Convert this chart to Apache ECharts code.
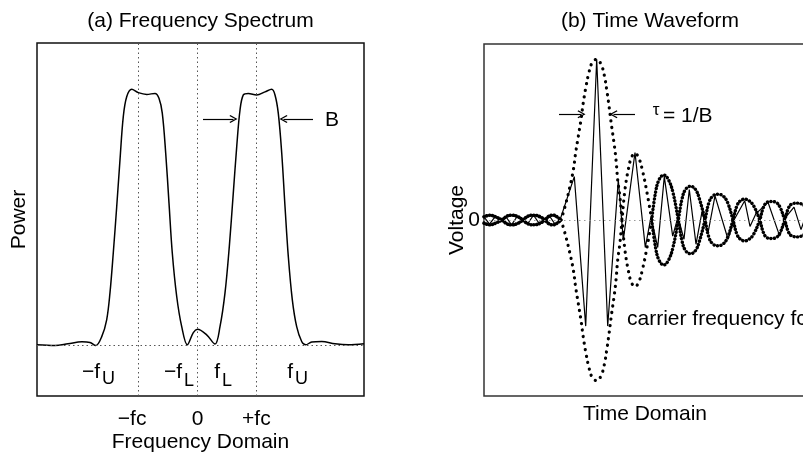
<!DOCTYPE html>
<html>
<head>
<meta charset="utf-8">
<title>Frequency spectrum and time waveform</title>
<script src="https://cdn.jsdelivr.net/npm/echarts@6.0.0/dist/echarts.min.js"></script>
<style>
  html, body { margin: 0; padding: 0; background: #fff; }
  #chart { width: 803px; height: 452px; }
</style>
</head>
<body>
<div id="chart"></div>
<script>
// (a) spectrum: frequency in units of fc, power normalised to the band top
var specFreq = [-2.725, -2.419, -2.199, -1.961, -1.825, -1.728, -1.626, -1.542, -1.486, -1.430,
  -1.372, -1.316, -1.260, -1.202, -1.117, -1.005, -0.862, -0.722, -0.654, -0.598,
  -0.540, -0.484, -0.428, -0.353, -0.268, -0.173, -0.071, 0, 0.156, 0.297,
  0.382, 0.467, 0.540, 0.608, 0.666, 0.722, 0.778, 0.862, 1.005, 1.146,
  1.260, 1.316, 1.372, 1.430, 1.486, 1.542, 1.610, 1.684, 1.769, 1.837,
  1.939, 2.109, 2.334, 2.560, 2.827];
var specPower = [0, -0.003, 0.004, 0.012, 0.009, -0.003, 0.032, 0.098, 0.203, 0.359,
  0.539, 0.723, 0.892, 0.970, 0.999, 0.986, 0.979, 0.983, 0.964, 0.906,
  0.750, 0.555, 0.359, 0.189, 0.071, 0.0, 0.048, 0.061, 0.039, 0.003,
  0.071, 0.203, 0.384, 0.594, 0.775, 0.918, 0.977, 0.983, 0.977, 0.989,
  0.999, 0.977, 0.905, 0.750, 0.540, 0.345, 0.176, 0.071, 0.013, 0.0,
  0.011, 0.013, 0.004, 0.0, 0.004];
var freqTicks = [-1, 0, 1];
var freqTickNames = ['−fc', '0', '+fc'];

// (b) waveform: time relative to the pulse peak, voltage normalised to the peak
var envTime = [-114, -108, -102, -96, -91, -86, -80, -75, -70, -64, -58, -53, -49, -45, -41, -37,
  -33, -28, -24.7, -22.3, -19.7, -17, -14.7, -12, -9, -5.7, -1.3, 3, 6.3, 8.7, 11, 13.7, 16, 18, 19.7, 22, 24,
  27, 30.5, 33.5, 37, 40.5, 44, 49, 53.7,
  57.5, 61, 65.8, 70.5, 75, 80.3,
  84, 87.5, 92.5, 97.5, 101.5, 107,
  111, 115, 120, 125, 129.5, 135,
  139, 142.5, 146.7, 151, 155.5, 161.7,
  165.5, 169, 173.3, 178, 182, 186.7,
  190.5, 194, 200, 205, 208];
var envAmp = [0.02, 0.03, 0.018, 0, -0.024, -0.03, -0.02, 0, 0.024, 0.03, 0.02, 0, -0.024, -0.03, -0.02, 0,
  0.083, 0.21, 0.31, 0.42, 0.52, 0.625, 0.73, 0.83, 0.92, 0.98, 1.0, 0.97, 0.9, 0.81, 0.71, 0.58, 0.48, 0.375, 0.25, 0.14, 0,
  -0.19, -0.32, -0.39, -0.415, -0.39, -0.32, -0.17, 0,
  0.17, 0.25, 0.28, 0.25, 0.17, 0,
  -0.13, -0.19, -0.21, -0.19, -0.13, 0,
  0.11, 0.15, 0.16, 0.15, 0.11, 0,
  -0.09, -0.12, -0.13, -0.12, -0.09, 0,
  0.08, 0.11, 0.115, 0.11, 0.08, 0,
  -0.075, -0.1, -0.105, -0.095, -0.08];
var carTime = [-114, -108.5, -103, -97.5, -92, -86.5, -81, -75.5, -70, -64.5, -59, -53.5, -48, -42.5, -38,
  -23.7, -12.3, -1.3, 9.7, 20.3, 25.3, 37,
  47.3, 53, 59.7, 66.3, 74.7, 80, 86, 91.3, 98, 104, 110, 117, 130, 136,
  146.7, 152, 158, 170, 181.7, 188, 196, 203, 208];
var carAmp = [0.02, -0.025, 0.02, -0.005, 0.02, -0.03, 0.02, 0, -0.02, 0.03, -0.02, 0, 0.02, -0.03, 0,
  0.27, -0.66, 1.0, -0.66, 0.25, -0.125, 0.42,
  -0.17, 0.02, -0.17, 0.27, -0.1, 0.02, -0.12, 0.19, -0.15, 0.05, -0.08, 0.15, -0.12, 0,
  0.12, -0.04, 0.04, 0.11, -0.1, 0.02, 0.08, -0.06, 0.03];

var FONT = 'Liberation Sans, Arial, Helvetica, sans-serif';

function pairs(xs, ys, sign) {
  return xs.map(function (x, i) { return [x, (sign || 1) * ys[i]]; });
}

// the big lobes are drawn with sparse dots, the flat parts with dense ones
function envSeries(sign, from, to, gap, width) {
  var pts = pairs(envTime, envAmp, sign).filter(function (p) { return p[0] >= from && p[0] <= to; });
  return {
    type: 'line', xAxisIndex: 1, yAxisIndex: 1, z: 3,
    data: pts, showSymbol: false, smooth: 0.4,
    lineStyle: { color: '#000', width: width, type: [0.1, gap], cap: 'round' }
  };
}

var chart = echarts.init(document.getElementById('chart'), null, { renderer: 'canvas' });

var chevron = 'path://M0,0 L6,9 L4.6,10 L0,3 L-4.6,10 L-6,9 Z';
var dotted = { color: '#555', width: 1, type: [1.5, 3] };
var txt = function (x, y, s, size, align) {
  return { type: 'text', x: x, y: y, style: { text: s, font: size + 'px ' + FONT, fill: '#000', align: align, verticalAlign: 'middle' } };
};

chart.setOption({
  animation: false,
  backgroundColor: '#fff',
  textStyle: { fontFamily: FONT },
  grid: [
    { left: 37, top: 43, width: 327, height: 353, outerBoundsMode: 'none', show: true, borderColor: '#111', borderWidth: 1.5, backgroundColor: 'transparent' },
    { left: 484, top: 44, width: 322, height: 352, outerBoundsMode: 'none', show: true, borderColor: '#333', borderWidth: 1.5, backgroundColor: 'transparent' }
  ],
  xAxis: [
    {
      gridIndex: 0, type: 'value', min: -2.725, max: 2.827,
      axisLine: { show: false }, axisTick: { show: false }, splitLine: { show: false },
      axisLabel: {
        customValues: freqTicks, margin: 13, fontSize: 21, color: '#000', fontFamily: FONT,
        formatter: function (v) {
          var name = freqTickNames[freqTicks.indexOf(v)];
          return v < 0 ? '{neg|' + name + '}' : name;
        },
        rich: { neg: { fontSize: 21, color: '#000', fontFamily: FONT, padding: [0, 13, 0, 0] } }
      },
      name: 'Frequency Domain', nameLocation: 'middle', nameGap: 36, nameMoveOverlap: false,
      nameTextStyle: { fontSize: 21, color: '#000', fontFamily: FONT }
    },
    {
      gridIndex: 1, type: 'value', min: -114, max: 208,
      axisLine: { show: false }, axisTick: { show: false }, splitLine: { show: false },
      axisLabel: { show: false },
      name: 'Time Domain', nameLocation: 'middle', nameGap: 8, nameMoveOverlap: false,
      nameTextStyle: { fontSize: 21, color: '#000', fontFamily: FONT }
    }
  ],
  yAxis: [
    {
      gridIndex: 0, type: 'value', min: -0.2, max: 1.18,
      axisLine: { show: false }, axisTick: { show: false }, splitLine: { show: false },
      axisLabel: { show: false },
      name: 'Power', nameLocation: 'middle', nameGap: 7, nameMoveOverlap: false,
      nameTextStyle: { fontSize: 21, color: '#000', fontFamily: FONT }
    },
    {
      gridIndex: 1, type: 'value', min: -1.095, max: 1.095,
      axisLine: { show: false }, axisTick: { show: false }, splitLine: { show: false },
      axisLabel: { customValues: [0], margin: 4, fontSize: 21, color: '#000', fontFamily: FONT },
      name: 'Voltage', nameLocation: 'middle', nameGap: 16, nameMoveOverlap: false,
      nameTextStyle: { fontSize: 21, color: '#000', fontFamily: FONT }
    }
  ],
  series: [
    // reference lines (a)
    {
      type: 'line', xAxisIndex: 0, yAxisIndex: 0, data: [], z: 1, silent: true,
      markLine: {
        silent: true, symbol: 'none', label: { show: false }, lineStyle: dotted,
        data: [{ xAxis: -1 }, { xAxis: 0 }, { xAxis: 1 }, { yAxis: 0 }]
      }
    },
    // spectrum
    {
      type: 'line', xAxisIndex: 0, yAxisIndex: 0, z: 3,
      data: pairs(specFreq, specPower), showSymbol: false, smooth: 0.35,
      lineStyle: { color: '#000', width: 1.5 }
    },
    // bandwidth arrows
    {
      type: 'line', xAxisIndex: 0, yAxisIndex: 0, data: [], z: 4, silent: true,
      markLine: {
        silent: true, symbol: ['none', chevron], symbolSize: [8, 8], label: { show: false },
        lineStyle: { color: '#000', width: 1.2, type: 'solid' },
        data: [
          [{ coord: [0.093, 0.883] }, { coord: [0.611, 0.883] }],
          [{ coord: [1.961, 0.883] }, { coord: [1.460, 0.883] }]
        ]
      }
    },
    // zero line (b)
    {
      type: 'line', xAxisIndex: 1, yAxisIndex: 1, data: [], z: 1, silent: true,
      markLine: {
        silent: true, symbol: 'none', label: { show: false },
        lineStyle: { color: '#999', width: 1, type: [1.5, 3.5] },
        data: [{ yAxis: 0 }]
      }
    },
    // envelope, upper and lower
    envSeries(1, -114, -37, 2.8, 3.6),
    envSeries(-1, -114, -37, 2.8, 3.6),
    envSeries(1, -37, 53.7, 6.5, 3.2),
    envSeries(-1, -37, 53.7, 6.5, 3.2),
    envSeries(1, 53.7, 208, 3.4, 3.4),
    envSeries(-1, 53.7, 208, 3.4, 3.4),
    // carrier
    {
      type: 'line', xAxisIndex: 1, yAxisIndex: 1, z: 4,
      data: pairs(carTime, carAmp), showSymbol: false,
      lineStyle: { color: '#000', width: 1.2 }
    },
    // pulse width arrows
    {
      type: 'line', xAxisIndex: 1, yAxisIndex: 1, data: [], z: 4, silent: true,
      markLine: {
        silent: true, symbol: ['none', chevron], symbolSize: [8, 8], label: { show: false },
        lineStyle: { color: '#000', width: 1.2, type: 'solid' },
        data: [
          [{ coord: [-39, 0.658] }, { coord: [-16.5, 0.658] }],
          [{ coord: [37, 0.658] }, { coord: [15.5, 0.658] }]
        ]
      }
    }
  ],
  graphic: [
    txt(200.5, 21, '(a) Frequency Spectrum', 21, 'center'),
    txt(650, 21, '(b) Time Waveform', 21, 'center'),
    txt(325, 120, 'B', 21, 'left'),
    txt(100, 372, '−f', 21, 'right'),
    txt(102, 379, 'U', 18, 'left'),
    txt(182, 372, '−f', 21, 'right'),
    txt(184, 381, 'L', 18, 'left'),
    txt(220, 372, 'f', 21, 'right'),
    txt(222, 381, 'L', 18, 'left'),
    txt(293, 372, 'f', 21, 'right'),
    txt(295, 379, 'U', 18, 'left'),
    txt(656, 110, 'τ', 17, 'center'),
    txt(663, 116, '= 1/B', 21, 'left'),
    txt(627, 319, 'carrier frequency fc', 21, 'left')
  ]
});
</script>
</body>
</html>
